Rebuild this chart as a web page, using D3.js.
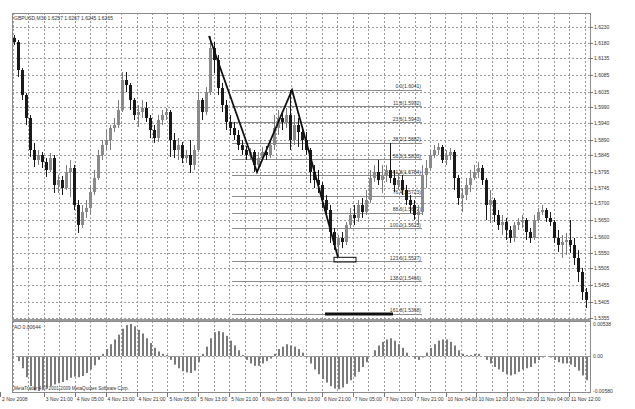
<!DOCTYPE html>
<html>
<head>
<meta charset="utf-8">
<title>GBPUSD,M30</title>
<script src="https://d3js.org/d3.v7.min.js"></script>
<style>
  body { margin: 0; background: #fff; }
  text { font-family: "Liberation Sans", Arial, sans-serif; fill: #333; }
</style>
</head>
<body>
<div id="chart"></div>
<script>
// candles (M30)
var opens = [
  1.6196,1.6184,1.6100,1.6025,1.5956,1.5860,1.5830,1.5845,1.5824,1.5800,1.5836,1.5755,
  1.5770,1.5746,1.5794,1.5806,1.5695,1.5635,1.5674,1.5686,1.5734,1.5776,1.5845,1.5875,
  1.5890,1.5926,1.5935,1.5980,1.6070,1.6055,1.6010,1.5965,1.5974,1.5986,1.5956,1.5920,
  1.5896,1.5950,1.5965,1.5974,1.5890,1.5860,1.5875,1.5836,1.5845,1.5815,1.5860,1.6010,
  1.5974,1.6034,1.6166,1.6130,1.6046,1.5995,1.5944,1.5926,1.5905,1.5875,1.5860,1.5845,
  1.5854,1.5815,1.5836,1.5854,1.5845,1.5875,1.5926,1.5956,1.5944,1.5965,1.5890,1.5935,
  1.5914,1.5890,1.5860,1.5794,1.5770,1.5755,1.5710,1.5680,1.5614,1.5575,1.5596,1.5584,
  1.5635,1.5665,1.5656,1.5695,1.5674,1.5710,1.5776,1.5794,1.5770,1.5785,1.5800,1.5776,
  1.5755,1.5770,1.5740,1.5710,1.5695,1.5665,1.5674,1.5785,1.5806,1.5845,1.5860,1.5869,
  1.5830,1.5845,1.5854,1.5776,1.5716,1.5725,1.5755,1.5776,1.5794,1.5806,1.5770,1.5695,
  1.5710,1.5665,1.5635,1.5644,1.5620,1.5596,1.5635,1.5644,1.5650,1.5614,1.5596,1.5650,
  1.5674,1.5680,1.5656,1.5644,1.5596,1.5575,1.5584,1.5590,1.5575,1.5536,1.5494,1.5434
];
var highs = [
  1.6205,1.6190,1.6106,1.6031,1.5965,1.5881,1.5860,1.5854,1.5836,1.5851,1.5845,1.5785,
  1.5782,1.5815,1.5830,1.5815,1.5710,1.5695,1.5710,1.5755,1.5800,1.5860,1.5890,1.5920,
  1.5935,1.5956,1.6010,1.6094,1.6094,1.6061,1.6016,1.5995,1.6010,1.6004,1.5965,1.5935,
  1.5965,1.5980,1.5986,1.5980,1.5911,1.5896,1.5884,1.5860,1.5890,1.5875,1.6034,1.6016,
  1.6049,1.6202,1.6184,1.6145,1.6061,1.6010,1.5965,1.5944,1.5920,1.5890,1.5872,1.5866,
  1.5860,1.5854,1.5869,1.5872,1.5890,1.5965,1.5980,1.5974,1.5986,1.6040,1.5965,1.5956,
  1.5926,1.5914,1.5866,1.5815,1.5800,1.5764,1.5725,1.5695,1.5626,1.5605,1.5614,1.5644,
  1.5686,1.5695,1.5710,1.5716,1.5740,1.5800,1.5815,1.5830,1.5815,1.5815,1.5881,1.5800,
  1.5791,1.5785,1.5755,1.5725,1.5710,1.5695,1.5815,1.5830,1.5860,1.5875,1.5881,1.5875,
  1.5860,1.5866,1.5860,1.5785,1.5746,1.5776,1.5800,1.5815,1.5824,1.5815,1.5776,1.5740,
  1.5716,1.5680,1.5665,1.5656,1.5632,1.5644,1.5656,1.5665,1.5656,1.5626,1.5665,1.5686,
  1.5695,1.5686,1.5674,1.5650,1.5620,1.5605,1.5611,1.5650,1.5596,1.5560,1.5506,1.5446
];
var lows = [
  1.6175,1.6079,1.6010,1.5935,1.5839,1.5809,1.5815,1.5806,1.5779,1.5794,1.5731,1.5731,
  1.5725,1.5740,1.5719,1.5680,1.5611,1.5626,1.5656,1.5665,1.5725,1.5770,1.5830,1.5860,
  1.5860,1.5914,1.5926,1.5974,1.6034,1.5980,1.5950,1.5929,1.5956,1.5944,1.5896,1.5881,
  1.5884,1.5935,1.5950,1.5839,1.5836,1.5830,1.5821,1.5821,1.5791,1.5800,1.5854,1.5950,
  1.5965,1.6025,1.6091,1.6025,1.5974,1.5920,1.5905,1.5890,1.5860,1.5845,1.5830,1.5830,
  1.5794,1.5806,1.5830,1.5830,1.5836,1.5860,1.5905,1.5920,1.5926,1.5860,1.5875,1.5869,
  1.5860,1.5845,1.5761,1.5746,1.5731,1.5686,1.5665,1.5581,1.5560,1.5542,1.5566,1.5575,
  1.5626,1.5635,1.5644,1.5656,1.5665,1.5701,1.5764,1.5755,1.5731,1.5764,1.5761,1.5734,
  1.5740,1.5725,1.5695,1.5671,1.5650,1.5635,1.5665,1.5746,1.5800,1.5836,1.5845,1.5821,
  1.5815,1.5830,1.5740,1.5695,1.5674,1.5710,1.5734,1.5770,1.5776,1.5755,1.5650,1.5641,
  1.5644,1.5620,1.5605,1.5590,1.5581,1.5584,1.5620,1.5626,1.5590,1.5581,1.5590,1.5644,
  1.5665,1.5644,1.5632,1.5581,1.5554,1.5536,1.5545,1.5551,1.5515,1.5464,1.5410,1.5386
];
var closes = [
  1.6184,1.6100,1.6025,1.5956,1.5860,1.5830,1.5845,1.5824,1.5800,1.5836,1.5755,1.5770,
  1.5746,1.5794,1.5806,1.5695,1.5635,1.5674,1.5686,1.5734,1.5776,1.5845,1.5875,1.5890,
  1.5926,1.5935,1.5980,1.6070,1.6055,1.6010,1.5965,1.5974,1.5986,1.5956,1.5920,1.5896,
  1.5950,1.5965,1.5974,1.5890,1.5860,1.5875,1.5836,1.5845,1.5815,1.5860,1.6010,1.5974,
  1.6034,1.6166,1.6130,1.6046,1.5995,1.5944,1.5926,1.5905,1.5875,1.5860,1.5845,1.5854,
  1.5815,1.5836,1.5854,1.5845,1.5875,1.5926,1.5956,1.5944,1.5965,1.5890,1.5935,1.5914,
  1.5890,1.5860,1.5794,1.5770,1.5755,1.5710,1.5680,1.5614,1.5575,1.5596,1.5584,1.5635,
  1.5665,1.5656,1.5695,1.5674,1.5710,1.5776,1.5794,1.5770,1.5785,1.5800,1.5776,1.5755,
  1.5770,1.5740,1.5710,1.5695,1.5665,1.5674,1.5785,1.5806,1.5845,1.5860,1.5869,1.5830,
  1.5845,1.5854,1.5776,1.5716,1.5725,1.5755,1.5776,1.5794,1.5806,1.5770,1.5695,1.5710,
  1.5665,1.5635,1.5644,1.5620,1.5596,1.5635,1.5644,1.5650,1.5614,1.5596,1.5650,1.5674,
  1.5680,1.5656,1.5644,1.5596,1.5575,1.5584,1.5590,1.5575,1.5536,1.5494,1.5434,1.5410
];

// Awesome Oscillator, one value per candle
var aoValues = [
   0.0000,-0.0008,-0.0020,-0.0035,-0.0050,-0.0057,-0.0058,-0.0056,-0.0054,-0.0050,-0.0047,-0.0045,
  -0.0043,-0.0040,-0.0036,-0.0034,-0.0035,-0.0033,-0.0028,-0.0022,-0.0015,-0.0006, 0.0004, 0.0012,
   0.0020, 0.0028, 0.0036, 0.0046, 0.0052, 0.0054, 0.0050, 0.0044, 0.0038, 0.0030, 0.0022, 0.0014,
   0.0008, 0.0004, 0.0002,-0.0006,-0.0014,-0.0020,-0.0025,-0.0027,-0.0028,-0.0024,-0.0010, 0.0004,
   0.0016, 0.0030, 0.0040, 0.0042, 0.0040, 0.0034, 0.0026, 0.0018, 0.0010, 0.0002,-0.0006,-0.0012,
  -0.0016,-0.0016,-0.0012,-0.0008,-0.0004, 0.0004, 0.0012, 0.0016, 0.0020, 0.0018, 0.0016, 0.0012,
   0.0006,-0.0002,-0.0012,-0.0022,-0.0030,-0.0038,-0.0044,-0.0050,-0.0054,-0.0055,-0.0052,-0.0046,
  -0.0040,-0.0034,-0.0026,-0.0018,-0.0010, 0.0000, 0.0010, 0.0018, 0.0024, 0.0028, 0.0030, 0.0026,
   0.0020, 0.0014, 0.0006, 0.0000,-0.0004,-0.0006,-0.0002, 0.0006, 0.0014, 0.0020, 0.0026, 0.0028,
   0.0028, 0.0024, 0.0018, 0.0010, 0.0004, 0.0002, 0.0002, 0.0004, 0.0004, 0.0000,-0.0006,-0.0012,
  -0.0018,-0.0022,-0.0026,-0.0030,-0.0032,-0.0030,-0.0026,-0.0022,-0.0020,-0.0018,-0.0012,-0.0006,
  -0.0002, 0.0000,-0.0002,-0.0006,-0.0010,-0.0012,-0.0012,-0.0014,-0.0018,-0.0024,-0.0032,-0.0040
];

// price axis labels
var priceTicks = [1.6230,1.6180,1.6135,1.6085,1.6035,1.5990,1.5940,1.5890,1.5845,1.5795,
  1.5745,1.5700,1.5650,1.5600,1.5550,1.5505,1.5455,1.5405,1.5355];
var aoTicks = [0.00538, 0, -0.0058];
var aoTickLabels = ["0.00538", "0.00", "-0.00580"];

// time axis labels (position in bars)
var timeLabels = ["2 Nov 2008","3 Nov 21:00","4 Nov 05:00","4 Nov 13:00","4 Nov 21:00",
  "5 Nov 05:00","5 Nov 13:00","5 Nov 21:00","6 Nov 05:00","6 Nov 13:00","6 Nov 21:00",
  "7 Nov 05:00","7 Nov 13:00","7 Nov 21:00","10 Nov 04:00","10 Nov 12:00","10 Nov 20:00",
  "11 Nov 04:00","11 Nov 12:00"];
var timeIdx = [-3.5,7.45,15.18,22.9,30.63,38.35,46.08,53.8,61.53,69.25,76.98,84.7,92.43,
  100.15,107.88,115.6,123.33,131.05,138.78];

// zigzag (AB=CD) and fibonacci
var zigzagIdx = [48.75, 60.75, 69.5, 81];
var zigzagPrice = [1.6202, 1.5794, 1.6040, 1.5538];
var fibLevels = [0, 11.8, 23.6, 38.2, 50.0, 61.8, 76.4, 88.6, 100.0, 123.6, 138.2, 161.8];
var fibHigh = 1.6041, fibLow = 1.5625;
var fibFrom = 54.5, fibTo = 102;
var boxIdx = [80, 85.5], boxPrice = [1.5538, 1.5524];
var targetIdx = [77.75, 94.75], targetPrice = 1.5368;

var W = 635, H = 409;
var left = 12, right = 590, mainTop = 13, mainBottom = 319, aoTop = 321, aoBottom = 392;

var svg = d3.select("#chart").append("svg")
  .attr("width", W).attr("height", H);

var xScale = d3.scaleLinear().domain([0, closes.length - 1]).range([14, 586]);
var yScale = d3.scaleLinear().domain([1.5355, 1.6230]).range([318.3, 26.7]);
var aoScale = d3.scaleLinear().domain([-0.0058, 0.00538]).range([391, 324]);

// grid
var gridIdx = d3.range(-0.275, closes.length, 3.8625);
var grid = svg.append("g").attr("stroke", "#9a9a9a").attr("stroke-dasharray", "2,2").attr("stroke-width", 1);
grid.selectAll(".hg").data(priceTicks).enter().append("line")
  .attr("x1", left).attr("x2", right)
  .attr("y1", function(d) { return Math.round(yScale(d)) + 0.5; })
  .attr("y2", function(d) { return Math.round(yScale(d)) + 0.5; });
grid.selectAll(".vg").data(gridIdx).enter().append("line")
  .attr("x1", function(d) { return Math.round(xScale(d)) + 0.5; })
  .attr("x2", function(d) { return Math.round(xScale(d)) + 0.5; })
  .attr("y1", mainTop).attr("y2", mainBottom);
grid.selectAll(".vg2").data(gridIdx).enter().append("line")
  .attr("x1", function(d) { return Math.round(xScale(d)) + 0.5; })
  .attr("x2", function(d) { return Math.round(xScale(d)) + 0.5; })
  .attr("y1", aoTop).attr("y2", aoBottom);
grid.append("line")
  .attr("x1", left).attr("x2", right)
  .attr("y1", Math.round(aoScale(0)) + 0.5).attr("y2", Math.round(aoScale(0)) + 0.5);

// fibonacci levels
var fib = svg.append("g");
fib.selectAll("line").data(fibLevels).enter().append("line")
  .attr("x1", xScale(fibFrom)).attr("x2", xScale(fibTo))
  .attr("y1", function(d) { return Math.round(yScale(fibHigh - (fibHigh - fibLow) * d / 100)) + 0.5; })
  .attr("y2", function(d) { return Math.round(yScale(fibHigh - (fibHigh - fibLow) * d / 100)) + 0.5; })
  .attr("stroke", "#8c8c8c");
fib.selectAll("text").data(fibLevels).enter().append("text")
  .attr("x", xScale(fibTo) - 1)
  .attr("y", function(d) { return yScale(fibHigh - (fibHigh - fibLow) * d / 100) - 1.5; })
  .attr("text-anchor", "end").attr("font-size", 5)
  .text(function(d) { return d.toFixed(1) + "(" + (fibHigh - (fibHigh - fibLow) * d / 100).toFixed(4) + ")"; });

// candles
var idx = d3.range(closes.length);
var candles = svg.append("g");
candles.selectAll("line").data(idx).enter().append("line")
  .attr("x1", function(i) { return Math.round(xScale(i)) + 0.5; })
  .attr("x2", function(i) { return Math.round(xScale(i)) + 0.5; })
  .attr("y1", function(i) { return yScale(highs[i]); })
  .attr("y2", function(i) { return yScale(lows[i]); })
  .attr("stroke", function(i) { return closes[i] >= opens[i] ? "#7d7d7d" : "#1a1a1a"; });
candles.selectAll("rect").data(idx).enter().append("rect")
  .attr("x", function(i) { return Math.round(xScale(i)) - 1; })
  .attr("width", 3)
  .attr("y", function(i) { return yScale(Math.max(opens[i], closes[i])); })
  .attr("height", function(i) { return Math.max(1, Math.abs(yScale(opens[i]) - yScale(closes[i]))); })
  .attr("fill", function(i) { return closes[i] >= opens[i] ? "#8a8a8a" : "#1a1a1a"; });

// zigzag, box and target line
var zz = d3.line()
  .x(function(d, i) { return xScale(zigzagIdx[i]); })
  .y(function(d) { return yScale(d); });
svg.append("path").attr("d", zz(zigzagPrice))
  .attr("fill", "none").attr("stroke", "#111").attr("stroke-width", 1.8);
svg.append("rect")
  .attr("x", xScale(boxIdx[0])).attr("y", yScale(boxPrice[0]))
  .attr("width", xScale(boxIdx[1]) - xScale(boxIdx[0]))
  .attr("height", yScale(boxPrice[1]) - yScale(boxPrice[0]))
  .attr("fill", "none").attr("stroke", "#111").attr("stroke-width", 1);
svg.append("line")
  .attr("x1", xScale(targetIdx[0])).attr("x2", xScale(targetIdx[1]))
  .attr("y1", yScale(targetPrice)).attr("y2", yScale(targetPrice))
  .attr("stroke", "#111").attr("stroke-width", 3);

// AO histogram
svg.append("g").selectAll("rect").data(aoValues).enter().append("rect")
  .attr("x", function(d, i) { return Math.round(xScale(i)); })
  .attr("width", 2)
  .attr("y", function(d) { return Math.min(aoScale(d), aoScale(0)); })
  .attr("height", function(d) { return Math.abs(aoScale(d) - aoScale(0)); })
  .attr("fill", "#7a7a7a");

// frames
var frame = svg.append("g").attr("fill", "none").attr("stroke", "#8a8a8a");
frame.append("rect").attr("x", left + 0.5).attr("y", mainTop + 0.5)
  .attr("width", right - left).attr("height", mainBottom - mainTop);
frame.append("rect").attr("x", left + 0.5).attr("y", aoTop + 0.5)
  .attr("width", right - left).attr("height", aoBottom - aoTop);
svg.append("line").attr("x1", left).attr("x2", right + 1)
  .attr("y1", 320).attr("y2", 320).attr("stroke", "#9a9a9a").attr("stroke-width", 2);

// price axis
var pax = svg.append("g");
pax.selectAll("line").data(priceTicks).enter().append("line")
  .attr("x1", right).attr("x2", right + 3)
  .attr("y1", function(d) { return Math.round(yScale(d)) + 0.5; })
  .attr("y2", function(d) { return Math.round(yScale(d)) + 0.5; })
  .attr("stroke", "#777");
pax.selectAll("text").data(priceTicks).enter().append("text")
  .attr("x", right + 4).attr("y", function(d) { return yScale(d) + 2; })
  .attr("font-size", 5).text(function(d) { return d.toFixed(4); });

// AO axis
var aax = svg.append("g");
aax.selectAll("text").data(aoTicks).enter().append("text")
  .attr("x", right + 3).attr("y", function(d) { return aoScale(d) + 2; })
  .attr("font-size", 5).text(function(d, i) { return aoTickLabels[i]; });

// time axis
var tax = svg.append("g");
tax.selectAll("line").data(timeIdx).enter().append("line")
  .attr("x1", function(d) { return Math.round(xScale(d)) + 0.5; })
  .attr("x2", function(d) { return Math.round(xScale(d)) + 0.5; })
  .attr("y1", aoBottom).attr("y2", aoBottom + 5).attr("stroke", "#777");
tax.selectAll("text").data(timeIdx).enter().append("text")
  .attr("x", function(d) { return xScale(d) + 2; }).attr("y", 401)
  .attr("font-size", 5).text(function(d, i) { return timeLabels[i]; });

// captions
svg.append("text").attr("x", 14).attr("y", 20).attr("font-size", 5)
  .text("GBPUSD,M30  1.6257 1.6267 1.6245 1.6265");
svg.append("text").attr("x", 14).attr("y", 329).attr("font-size", 5)
  .text("AO 0.00644");
svg.append("text").attr("x", 14).attr("y", 390).attr("font-size", 4.6)
  .text("MetaTrader 4, \u00a9 2001-2009 MetaQuotes Software Corp.");
</script>
</body>
</html>
